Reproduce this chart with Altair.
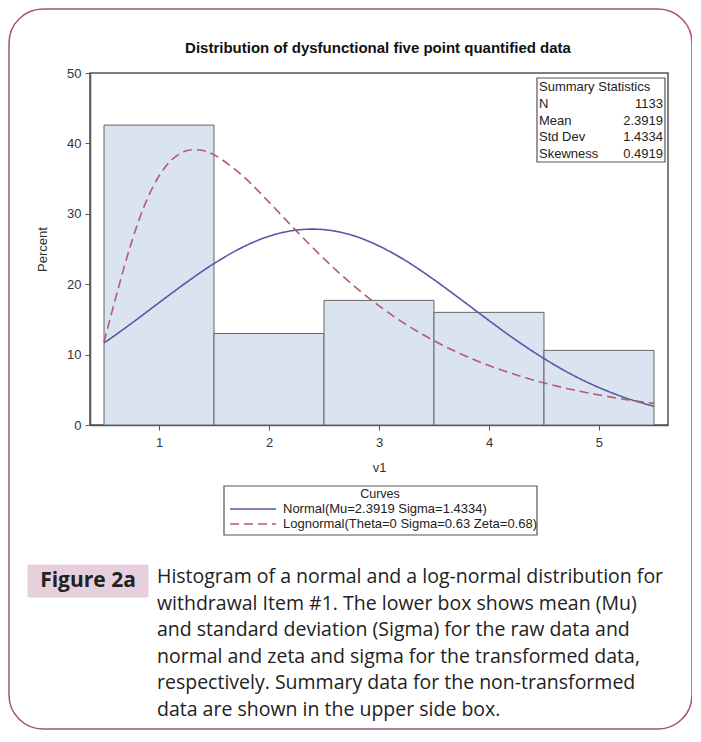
import altair as alt
import pandas as pd

# ---------------- data ----------------
bin_mid = [1, 2, 3, 4, 5]
bin_pct = [42.6, 13.0, 17.7, 16.0, 10.6]

curve_x = [0.5, 0.625, 0.75, 0.875, 1.0, 1.125, 1.25, 1.375, 1.5, 1.75, 2.0, 2.25,
           2.5, 2.75, 3.0, 3.25, 3.5, 3.75, 4.0, 4.25, 4.5, 4.75, 5.0, 5.25, 5.5]
normal_pct = [11.65, 13.02, 14.44, 15.90, 17.37, 18.83, 20.26, 21.64, 22.93, 25.18,
              26.81, 27.69, 27.75, 26.98, 25.43, 23.27, 20.64, 17.77, 14.84, 12.01,
              9.44, 7.19, 5.32, 3.81, 2.65]
lognormal_pct = [11.78, 19.15, 25.95, 31.44, 35.37, 37.80, 38.95, 39.06, 38.39, 35.53,
                 31.66, 27.54, 23.61, 20.05, 16.93, 14.24, 11.97, 10.05, 8.44, 7.10,
                 5.98, 5.05, 4.27, 3.61, 3.07]

curve_names = ["Normal(Mu=2.3919 Sigma=1.4334)",
               "Lognormal(Theta=0 Sigma=0.63 Zeta=0.68)"]
curve_colors = ["#5558a8", "#b65a6c"]

x_ticks = [1, 2, 3, 4, 5]
y_ticks = [0, 10, 20, 30, 40, 50]

stat_title = "Summary Statistics"
stat_labels = ["N", "Mean", "Std Dev", "Skewness"]
stat_values = ["1133", "2.3919", "1.4334", "0.4919"]

chart_title = "Distribution of dysfunctional five point quantified data"
legend_title = "Curves"
fig_label = "Figure 2a"
caption_lines = [
    "Histogram of a normal and a log-normal distribution for",
    "withdrawal Item #1. The lower box shows mean (Mu)",
    "and standard deviation (Sigma) for the raw data and",
    "normal and zeta and sigma for the transformed data,",
    "respectively. Summary data for the non-transformed",
    "data are shown in the upper side box.",
]

# ---------------- tables ----------------
bars = pd.DataFrame({
    "lo": [m - 0.5 for m in bin_mid],
    "hi": [m + 0.5 for m in bin_mid],
    "pct": bin_pct,
    "zero": [0] * len(bin_mid),
})
rows = []
for name, ys in zip(curve_names, [normal_pct, lognormal_pct]):
    for i, (xv, yv) in enumerate(zip(curve_x, ys)):
        rows.append({"x": xv, "pct": yv, "curve": name, "i": i})
curves = pd.DataFrame(rows)

SAS = "Liberation Sans"
xscale = alt.Scale(domain=[0.3725, 5.6275], nice=False, zero=False)
yscale = alt.Scale(domain=[0, 50], nice=False, zero=False)
xaxis = alt.Axis(title="v1", values=x_ticks, titlePadding=12, labelPadding=6)
yaxis = alt.Axis(title="Percent", values=y_ticks, titlePadding=17, labelPadding=4)

bar_layer = alt.Chart(bars).mark_rect(
    fill="#dae3f0", stroke="#666666", strokeWidth=1
).encode(
    x=alt.X("lo:Q", scale=xscale, axis=xaxis),
    x2="hi:Q",
    y=alt.Y("pct:Q", scale=yscale, axis=yaxis),
    y2="zero:Q",
)

line_layer = alt.Chart(curves).mark_line(interpolate="catmull-rom", strokeWidth=1.6).encode(
    x=alt.X("x:Q", scale=xscale, axis=xaxis),
    y=alt.Y("pct:Q", scale=yscale, axis=yaxis),
    color=alt.Color("curve:N", scale=alt.Scale(domain=curve_names, range=curve_colors), legend=None),
    strokeDash=alt.StrokeDash("curve:N", scale=alt.Scale(domain=curve_names, range=[[1, 0], [9, 5]]), legend=None),
    order="i:Q",
)


def one(v="x"):
    return pd.DataFrame({"t": [v]})


def text(s, x, y, **kw):
    return alt.Chart(one(s)).mark_text(**kw).encode(
        text="t:N", x=alt.value(x), y=alt.value(y))


def box(x1, x2, y1, y2, **kw):
    return alt.Chart(one()).mark_rect(**kw).encode(
        x=alt.value(x1), x2=alt.value(x2), y=alt.value(y1), y2=alt.value(y2))


def hline(x1, x2, y, **kw):
    return alt.Chart(one()).mark_rule(**kw).encode(
        x=alt.value(x1), x2=alt.value(x2), y=alt.value(y))


layers = []
# outer rounded frame
layers.append(box(-81, 602, -64, 656, fillOpacity=0, fill="white",
                  stroke="#a35283", strokeWidth=1.5, cornerRadius=34))
layers += [bar_layer, line_layer]

# title
layers.append(text(chart_title, 288, -25, font=SAS, fontSize=15, fontWeight="bold",
                   color="#111", align="center", baseline="middle"))

# summary statistics box
layers.append(box(447, 575, 5, 89, fill="white", stroke="#555", strokeWidth=1.2))
layers.append(text(stat_title, 449, 14, font=SAS, fontSize=13, color="#222",
                   align="left", baseline="middle"))
for k, (lab, val) in enumerate(zip(stat_labels, stat_values)):
    yy = 14 + 16.8 * (k + 1)
    layers.append(text(lab, 449, yy, font=SAS, fontSize=13, color="#222",
                       align="left", baseline="middle"))
    layers.append(text(val, 573, yy, font=SAS, fontSize=13, color="#222",
                       align="right", baseline="middle"))

# curves legend box
layers.append(box(134, 447, 413, 462, fill="white", stroke="#555", strokeWidth=1.2))
layers.append(text(legend_title, 290, 421, font=SAS, fontSize=12.5, color="#222",
                   align="center", baseline="middle"))
for k, (name, col) in enumerate(zip(curve_names, curve_colors)):
    yy = 436 + 15 * k
    layers.append(hline(140, 186, yy, color=col, strokeWidth=1.6,
                        strokeDash=[1, 0] if k == 0 else [9, 5]))
    layers.append(text(name, 193, yy, font=SAS, fontSize=13, color="#222",
                       align="left", baseline="middle"))

# caption
layers.append(box(-62, 58, 492, 524, fill="#e7d0dd", stroke="#e7d0dd"))
layers.append(text(fig_label, -2, 508, font="Open Sans", fontSize=21, fontWeight="bold",
                   color="#222", align="center", baseline="middle"))
for k, line in enumerate(caption_lines):
    layers.append(text(line, 67, 504 + 26.6 * k, font="Open Sans", fontSize=19.5,
                       color="#222", align="left", baseline="middle"))

chart = alt.layer(*layers).properties(
    width=578, height=352,
    autosize=alt.AutoSizeParams(type="none"),
    padding={"left": 82, "top": 65, "right": 24, "bottom": 306},
).configure_view(
    stroke="#555", strokeWidth=1.5
).configure_axis(
    grid=False, domainColor="#555", domainWidth=1.5, tickColor="#555", tickSize=5,
    labelFont=SAS, labelFontSize=13, labelColor="#333",
    titleFont=SAS, titleFontSize=13, titleColor="#333", titleFontWeight="normal",
)

chart.save("out.html", embed_options={"renderer": "svg", "actions": False})
